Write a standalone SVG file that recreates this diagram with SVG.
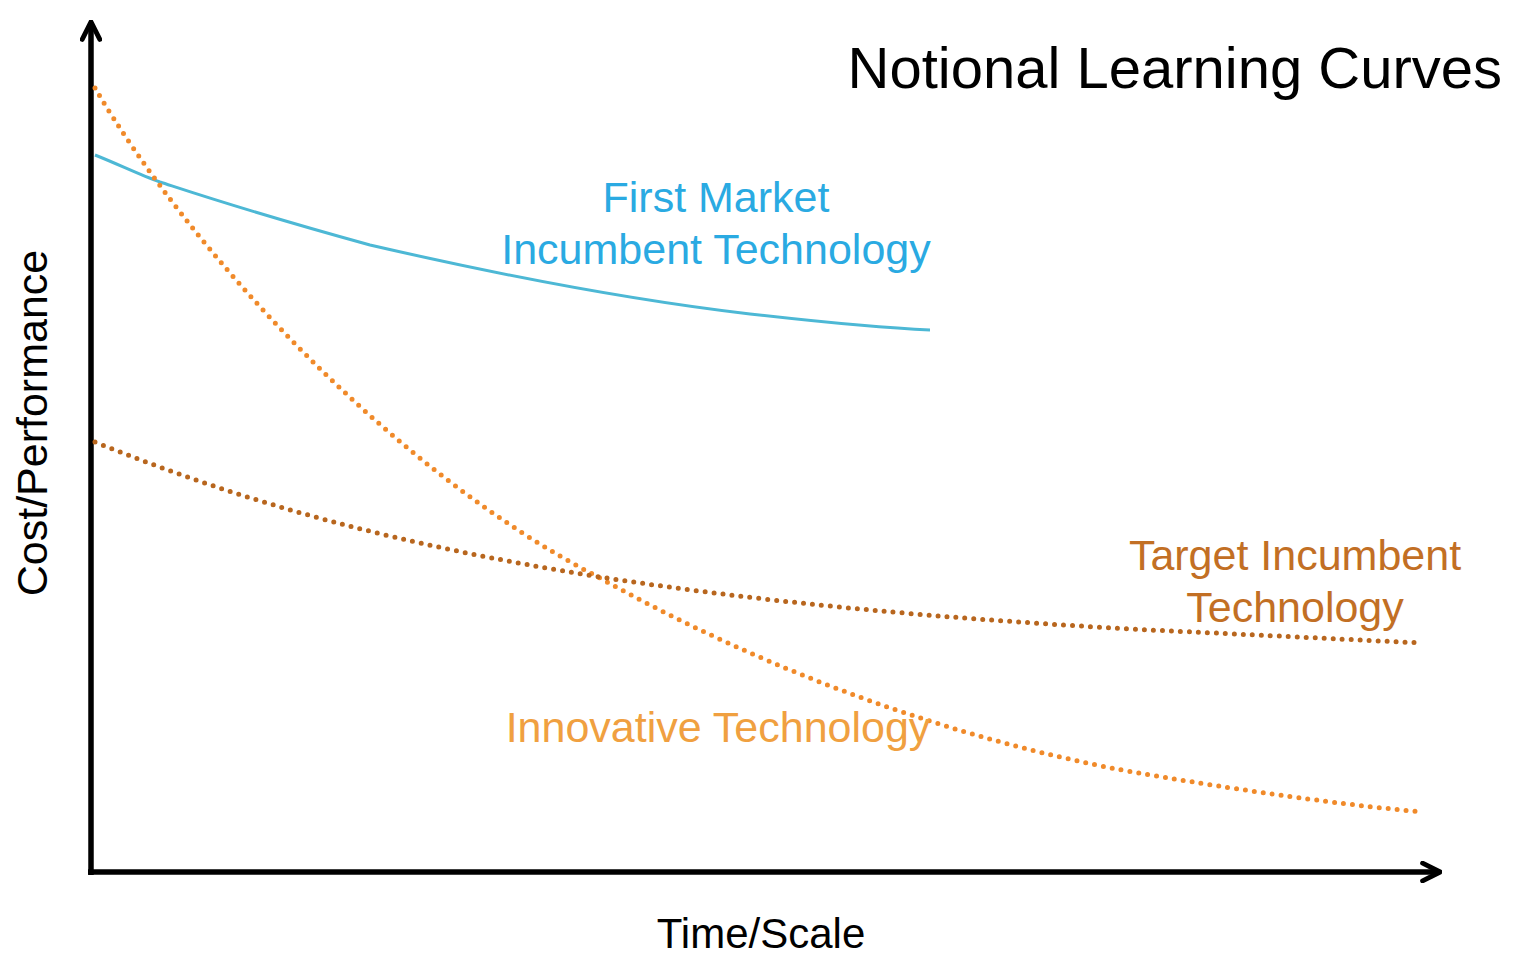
<svg xmlns="http://www.w3.org/2000/svg" width="1520" height="954" viewBox="0 0 1520 954">
<style>
text{font-family:"Liberation Sans",Arial,sans-serif}
.axis{stroke:#000;stroke-width:5.5;fill:none}
.dots{fill:none;stroke-width:5;stroke-linecap:round;stroke-dasharray:0 9}
.blue{fill:#2AAAE2}
.orange{fill:#F0A040}
.brown{fill:#C26F24}
</style>
<defs>
<marker id="ah" viewBox="0 0 10 10" refX="8" refY="5" markerWidth="4" markerHeight="4" orient="auto" markerUnits="strokeWidth">
<path d="M1,1 L9,5 L1,9" fill="none" stroke="#000" stroke-width="2.2" stroke-linecap="round" stroke-linejoin="round"/>
</marker>
</defs>
<rect width="1520" height="954" fill="#fff"/>
<g id="connectors">
<path id="y-axis" class="axis" d="M91,875 L91,24" marker-end="url(#ah)"/>
<path id="x-axis" class="axis" d="M88,872 L1438,872" marker-end="url(#ah)"/>
<path id="first-market-curve" d="M95,155 C120,165 140,175 160,182 C200,195 250,212 370,245 C500,275 630,300 750,314 C820,322 880,328 930,330" fill="none" stroke="#4DB8D5" stroke-width="3"/>
<path id="innovative-curve" class="dots" d="M95,88 C190,250 390,470 600,578 C800,690 1000,750 1150,775 C1300,800 1380,808 1422,812" stroke="#F08A2A"/>
<path id="target-curve" class="dots" d="M95,442 C250,505 400,545 600,577 C800,608 1000,622 1150,630 C1300,637 1380,641 1422,643" stroke="#B8661E"/>
</g>
<g id="title"><text x="1502" y="88" font-size="58" text-anchor="end" fill="#000">Notional Learning Curves</text></g>
<g id="first-market-label"><text class="blue" font-size="43" text-anchor="middle"><tspan x="716" y="212">First Market</tspan><tspan x="716" y="264">Incumbent Technology</tspan></text></g>
<g id="target-label"><text class="brown" font-size="43" text-anchor="middle"><tspan x="1295" y="570">Target Incumbent</tspan><tspan x="1295" y="622">Technology</tspan></text></g>
<g id="innovative-label"><text class="orange" font-size="43" text-anchor="middle" x="718" y="742">Innovative Technology</text></g>
<g id="x-label"><text x="761" y="948" font-size="42" text-anchor="middle" fill="#000">Time/Scale</text></g>
<g id="y-label"><text transform="translate(47,423) rotate(-90)" font-size="43" text-anchor="middle" fill="#000">Cost/Performance</text></g>
</svg>
